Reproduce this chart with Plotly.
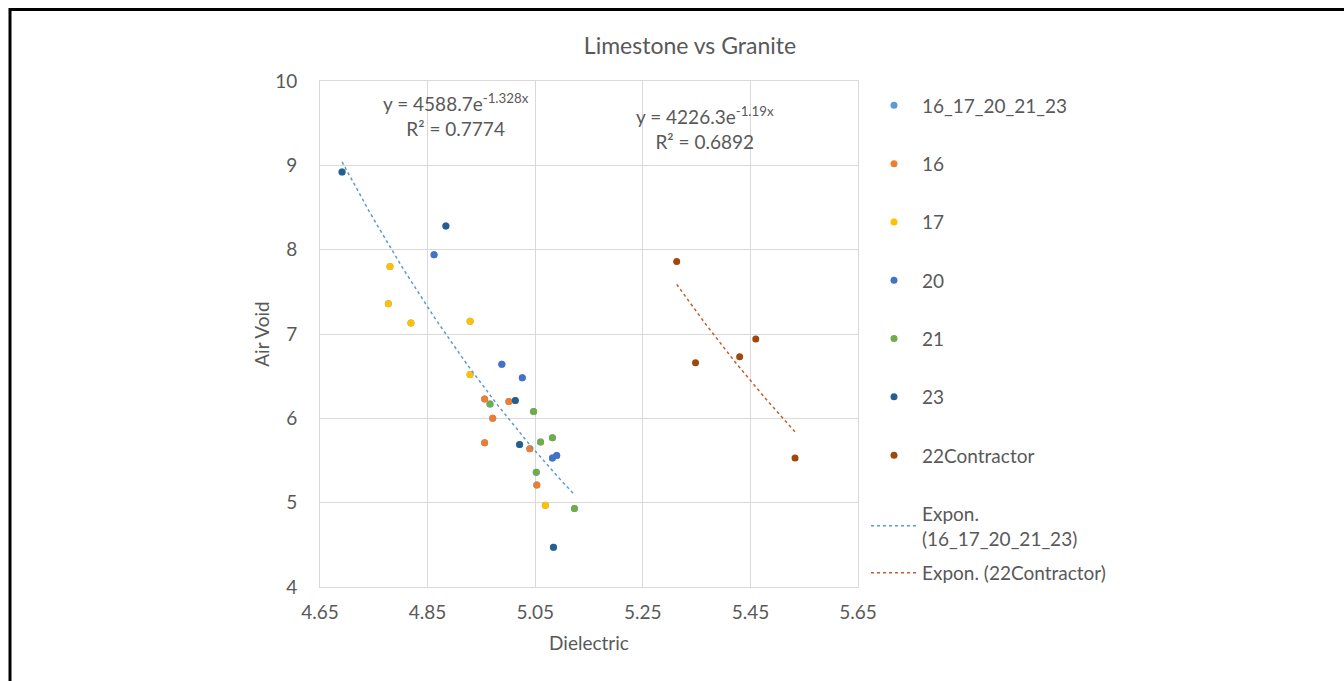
import plotly.graph_objects as go
import numpy as np

# ---- data ----
s16_x = [4.956, 5.001, 4.971, 4.956, 5.040, 5.053]
s16_y = [6.23, 6.20, 6.00, 5.71, 5.64, 5.21]
s17_x = [4.780, 4.777, 4.819, 4.929, 4.929, 5.069]
s17_y = [7.80, 7.36, 7.13, 7.15, 6.52, 4.97]
s20_x = [4.862, 4.988, 5.026, 5.082, 5.090]
s20_y = [7.94, 6.64, 6.48, 5.53, 5.56]
s21_x = [4.966, 5.047, 5.060, 5.082, 5.052, 5.123]
s21_y = [6.17, 6.08, 5.72, 5.77, 5.36, 4.93]
s23_x = [4.691, 4.884, 5.013, 5.021, 5.084]
s23_y = [8.92, 8.28, 6.21, 5.69, 4.47]
s22_x = [5.313, 5.348, 5.430, 5.460, 5.533]
s22_y = [7.86, 6.66, 6.73, 6.94, 5.53]

all_x = s16_x + s17_x + s20_x + s21_x + s23_x
all_y = s16_y + s17_y + s20_y + s21_y + s23_y

# exponential trendlines y = a*exp(b*x)
fit_all = (4588.7, -1.328)
fit_22 = (4226.3, -1.19)

x_ticks = [4.65, 4.85, 5.05, 5.25, 5.45, 5.65]
y_ticks = [4, 5, 6, 7, 8, 9, 10]


def trend(xs, fit, n=60):
    xx = np.linspace(min(xs), max(xs), n)
    return xx, fit[0] * np.exp(fit[1] * xx)


FONT = "Lato, Calibri, 'Open Sans', sans-serif"
GREY = "#595959"
FS = 19

fig = go.Figure()

series = [
    ("16_17_20_21_23", all_x, all_y, "#5B9BD5"),
    ("16", s16_x, s16_y, "#ED7D31"),
    ("17", s17_x, s17_y, "#FFC000"),
    ("20", s20_x, s20_y, "#4472C4"),
    ("21", s21_x, s21_y, "#70AD47"),
    ("23", s23_x, s23_y, "#255E91"),
    ("22Contractor", s22_x, s22_y, "#9E480E"),
]
for i, (name, xs, ys, col) in enumerate(series):
    fig.add_trace(go.Scatter(
        x=xs, y=ys, mode="markers", name=name,
        marker=dict(color=col, size=7, line=dict(width=0)),
        legendgroup=f"g{i}",
    ))

tx, ty = trend(all_x, fit_all)
fig.add_trace(go.Scatter(x=tx, y=ty, mode="lines", name="Expon.<br>(16_17_20_21_23)",
                         line=dict(color="#5B9BD5", width=1.5, dash="dot"),
                         legendgroup="trend1"))
tx2, ty2 = trend(s22_x, fit_22)
fig.add_trace(go.Scatter(x=tx2, y=ty2, mode="lines", name="Expon. (22Contractor)",
                         line=dict(color="#C0612B", width=1.5, dash="dot"),
                         legend="legend2"))

fig.add_annotation(x=4.9026, y=9.60, xref="x", yref="y", showarrow=False,
                   text="y = 4588.7e<sup>-1.328x</sup><br>R² = 0.7774",
                   font=dict(size=FS, color=GREY, family=FONT), align="center")
fig.add_annotation(x=5.365, y=9.44, xref="x", yref="y", showarrow=False,
                   text="y = 4226.3e<sup>-1.19x</sup><br>R² = 0.6892",
                   font=dict(size=FS, color=GREY, family=FONT), align="center")

# outer frame (top and left lines only)
L, R, T, B = 320, 486, 81, 94
W = 1344 - L - R
H = 681 - T - B


def px(xp):
    return (xp - L) / W


def py(yp):
    return (681 - B - yp) / H


fig.add_shape(type="line", xref="paper", yref="paper",
              x0=px(9), x1=px(1344), y0=py(9.5), y1=py(9.5),
              line=dict(color="black", width=3))
fig.add_shape(type="line", xref="paper", yref="paper",
              x0=px(10), x1=px(10), y0=py(8), y1=py(681),
              line=dict(color="black", width=3))

fig.update_layout(
    width=1344, height=681,
    margin=dict(l=L, r=R, t=T, b=B),
    paper_bgcolor="white", plot_bgcolor="white",
    font=dict(family=FONT, color=GREY, size=FS),
    title=dict(text="Limestone vs Granite", x=690 / 1344, xref="container", xanchor="center",
               y=1 - 46 / 681, yref="container", yanchor="middle",
               font=dict(size=23, color=GREY, family=FONT)),
    showlegend=True,
    legend=dict(x=px(866), y=py(86.5), xanchor="left", yanchor="top",
                font=dict(size=FS, color=GREY, family=FONT),
                tracegroupgap=30.6, itemwidth=46, bgcolor="rgba(0,0,0,0)"),
    legend2=dict(x=px(866), y=py(573), xanchor="left", yanchor="middle",
                 font=dict(size=FS, color=GREY, family=FONT),
                 itemwidth=46, bgcolor="rgba(0,0,0,0)"),
    xaxis=dict(range=[4.65, 5.65], tickvals=x_ticks, ticktext=[f"{v:.2f}" for v in x_ticks],
               showgrid=True, gridcolor="#D9D9D9", gridwidth=1,
               showline=True, linecolor="#D9D9D9", mirror=True, zeroline=False,
               ticks="", ticklabelstandoff=8,
               title=dict(text="Dielectric", standoff=14, font=dict(size=FS, color=GREY))),
    yaxis=dict(range=[4, 10], tickvals=y_ticks,
               showgrid=True, gridcolor="#D9D9D9", gridwidth=1,
               showline=True, linecolor="#D9D9D9", mirror=True, zeroline=False,
               ticks="", ticklabelstandoff=18,
               title=dict(text="Air Void", standoff=0, font=dict(size=FS, color=GREY))),
)

fig.write_html("out.html")
